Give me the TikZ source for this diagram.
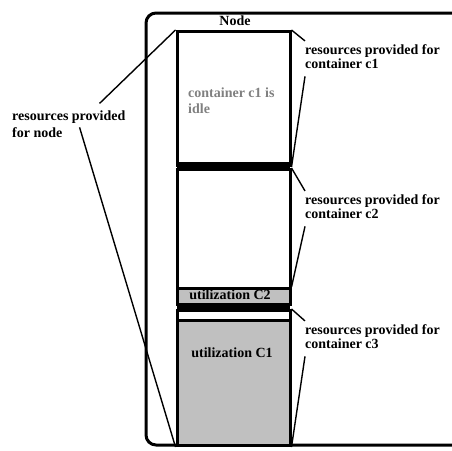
\documentclass[tikz,border=0pt]{standalone}
\usepackage{fontspec}
\setmainfont{Liberation Serif}
\definecolor{usedgray}{RGB}{192,192,192}
\definecolor{idlegray}{RGB}{128,128,128}
\tikzset{
  part/.style={draw, line width=3pt, minimum width=113pt, inner sep=0pt, anchor=north},
  band/.style={fill=black, minimum width=113pt, inner sep=0pt, anchor=north},
  note/.style={font=\bfseries\fontsize{14}{14}\selectfont, align=left, inner sep=0pt, anchor=base west},
  lead/.style={line width=1.4pt}
}
\begin{document}
\begin{tikzpicture}[x=1pt,y=-1pt]
\def\colx{233.5}
\clip (0,0) rectangle (452,450);

% outer frame of the node
\draw[line width=3pt, rounded corners=10pt] (470,13) -- (146,13) -- (146,445) -- (470,445);

% the three containers
\node[part, minimum height=134pt] (slot1) at (\colx,30) {};
\node[band, minimum height=6pt] (sep1) at (\colx,162) {};
\node[part, minimum height=135pt] (slot2) at (\colx,168) {};
\node[part, fill=usedgray, minimum height=16pt] (util2) at (\colx,287) {};
\node[band, minimum height=6pt] (sep2) at (\colx,303) {};
\node[part, minimum height=135pt] (slot3) at (\colx,309) {};
\node[part, fill=usedgray, minimum height=125pt] (util1) at (\colx,319) {};

\node[note, anchor=base] (title) at (235,25) {Node};
\node[note, text=idlegray, font=\bfseries\fontsize{14}{16}\selectfont] (idle) at (188,113) {container c1 is\\idle};
\node[note, anchor=base] (used2) at (230,299) {utilization C2};
\node[note, anchor=base] (used1) at (232,357) {utilization C1};

% labels (base = last line)
\node[note, font=\bfseries\fontsize{14}{16.7}\selectfont] (noderes) at (12,137) {resources provided\\for node};
\node[note] (res1) at (305,68) {resources provided for\\container c1};
\node[note] (res2) at (305,218) {resources provided for\\container c2};
\node[note] (res3) at (305,348) {resources provided for\\container c3};

% leaders
\draw[lead] (slot1.north west) -- ([shift={(-26pt,7pt)}]noderes.north east);
\draw[lead] ([shift={(-46pt,10pt)}]noderes.south east) -- (slot3.south west);
\draw[lead] (slot1.north east) -- ([shift={(0pt,3pt)}]res1.north west);
\draw[lead] ([shift={(0pt,-8pt)}]res1.south west) -- (slot1.south east);
\draw[lead] (slot2.north east) -- ([shift={(0pt,3pt)}]res2.north west);
\draw[lead] ([shift={(0pt,-8pt)}]res2.south west) -- (util2.north east);
\draw[lead] (slot3.north east) -- ([shift={(0pt,3pt)}]res3.north west);
\draw[lead] ([shift={(0pt,-8pt)}]res3.south west) -- (slot3.south east);
\end{tikzpicture}
\end{document}
